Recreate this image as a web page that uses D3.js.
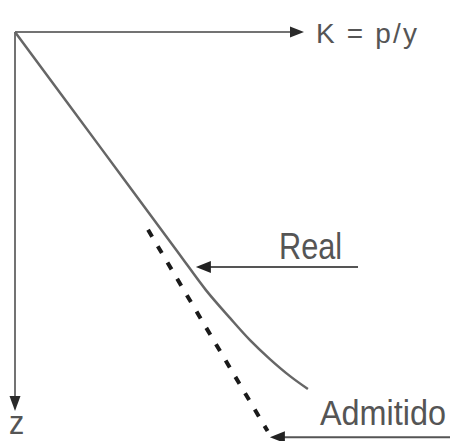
<!DOCTYPE html>
<html>
<head>
<meta charset="utf-8">
<script src="https://cdn.jsdelivr.net/npm/d3@7"></script>
<style>
  html, body { margin: 0; padding: 0; background: #fff; }
  svg { display: block; }
  text { font-family: "Liberation Sans", Arial, Helvetica, sans-serif; fill: #555; }
</style>
</head>
<body>
<div id="grafika"></div>
<script>
// curva real K(z)
const real_k = [0, 3.03, 5.60, 6.63, 7.47, 8.16, 8.85, 9.55, 10.17];
const real_z = [0, 3.11, 5.75, 6.81, 7.55, 8.13, 8.63, 9.08, 9.42];

// reta admitida (parte tracejada)
const admitido_k = [4.62, 8.77];
const admitido_z = [5.22, 10.53];

const axis_labels = ["K = p/y", "z"];
const curve_labels = ["Real", "Admitido"];

const width = 450, height = 441;

const x_scale = d3.scaleLinear().domain([0, 10]).range([15, 303]);
const y_scale = d3.scaleLinear().domain([0, 10]).range([32, 411]);

const svg = d3.select("#grafika")
  .append("svg")
  .attr("width", width)
  .attr("height", height);

const line = d3.line()
  .x(d => x_scale(d[0]))
  .y(d => y_scale(d[1]))
  .curve(d3.curveCatmullRom.alpha(0.5));

// cabeça de seta (triângulo) apontando na direção dir
const arrow_head = (tip, dir, len, half) => {
  const [tx, ty] = tip;
  const [dx, dy] = dir;
  const bx = tx - dx * len, by = ty - dy * len;
  const px = -dy * half, py = dx * half;
  return `M${tx},${ty}L${bx + px},${by + py}L${bx - px},${by - py}Z`;
};

// eixos
const x0 = x_scale(0), y0 = y_scale(0);
svg.append("line")
  .attr("x1", x0).attr("y1", y0)
  .attr("x2", x_scale(10) - 10).attr("y2", y0)
  .attr("stroke", "#737373").attr("stroke-width", 2);
svg.append("path")
  .attr("d", arrow_head([x_scale(10) + 1, y0], [1, 0], 14, 5.5))
  .attr("fill", "#2a2a2a");

svg.append("line")
  .attr("x1", x0).attr("y1", y0)
  .attr("x2", x0).attr("y2", y_scale(10) - 10)
  .attr("stroke", "#737373").attr("stroke-width", 2);
svg.append("path")
  .attr("d", arrow_head([x0, y_scale(10)], [0, 1], 15, 5.5))
  .attr("fill", "#2a2a2a");

// curva real
svg.append("path")
  .datum(d3.zip(real_k, real_z))
  .attr("d", line)
  .attr("fill", "none")
  .attr("stroke", "#666")
  .attr("stroke-width", 2.5);

// reta admitida
svg.append("path")
  .datum(d3.zip(admitido_k, admitido_z))
  .attr("d", d3.line().x(d => x_scale(d[0])).y(d => y_scale(d[1])))
  .attr("fill", "none")
  .attr("stroke", "#1a1a1a")
  .attr("stroke-width", 4)
  .attr("stroke-dasharray", "8,11");

// setas de legenda
const pointers = [
  { tip: [6.28, 6.20], tail: 11.91 },
  { tip: [8.85, 10.69], tail: 15.2 }
];
pointers.forEach(p => {
  const tx = x_scale(p.tip[0]), ty = y_scale(p.tip[1]);
  svg.append("line")
    .attr("x1", tx + 10).attr("y1", ty)
    .attr("x2", x_scale(p.tail)).attr("y2", ty)
    .attr("stroke", "#555").attr("stroke-width", 2);
  svg.append("path")
    .attr("d", arrow_head([tx, ty], [-1, 0], 15, 6))
    .attr("fill", "#222");
});

// textos (letra estreita: escala horizontal)
svg.append("text")
  .attr("x", 316).attr("y", 43)
  .attr("font-size", 28)
  .attr("textLength", 101)
  .attr("lengthAdjust", "spacing")
  .text(axis_labels[0]);

svg.append("text")
  .attr("transform", "translate(9,433.5) scale(0.9,1)")
  .attr("font-size", 34)
  .text(axis_labels[1]);

svg.append("text")
  .attr("transform", "translate(279,258.5) scale(0.83,1)")
  .attr("font-size", 37)
  .text(curve_labels[0]);

svg.append("text")
  .attr("transform", "translate(320,425) scale(0.9,1)")
  .attr("font-size", 36)
  .text(curve_labels[1]);
</script>
</body>
</html>
